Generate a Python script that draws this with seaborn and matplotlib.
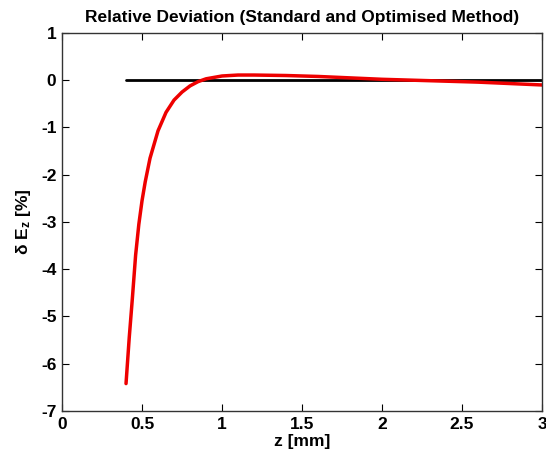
import numpy as np
import pandas as pd
import seaborn as sns
import matplotlib
matplotlib.use("Agg")
import matplotlib.pyplot as plt

# values
z_mm = [0.40, 0.42, 0.44, 0.46, 0.48, 0.50, 0.52, 0.55, 0.60, 0.65, 0.70,
        0.75, 0.80, 0.85, 0.90, 1.00, 1.10, 1.20, 1.40, 1.60, 1.80, 2.00,
        2.20, 2.40, 2.60, 2.80, 3.00]
dev_pct = [-6.42, -5.45, -4.60, -3.70, -3.05, -2.55, -2.15, -1.65, -1.07,
           -0.68, -0.42, -0.25, -0.12, -0.03, 0.03, 0.09, 0.11, 0.11, 0.10,
           0.08, 0.05, 0.02, 0.00, -0.02, -0.04, -0.07, -0.10]
ref_z = [0.40, 3.00]
ref_dev = [0.0, 0.0]

x_ticks = [0, 0.5, 1, 1.5, 2, 2.5, 3]
x_labels = ["0", "0.5", "1", "1.5", "2", "2.5", "3"]
y_ticks = [-7, -6, -5, -4, -3, -2, -1, 0, 1]

sns.set_style("ticks")
plt.rcParams['font.family'] = ['Liberation Sans', 'DejaVu Sans']
plt.rcParams['font.weight'] = 'bold'
plt.rcParams['axes.unicode_minus'] = False
plt.rcParams['text.color'] = 'black'
plt.rcParams['axes.labelcolor'] = 'black'
plt.rcParams['mathtext.fontset'] = 'custom'
plt.rcParams['mathtext.rm'] = 'Liberation Sans:bold'
plt.rcParams['mathtext.it'] = 'Liberation Sans:bold'

df = pd.DataFrame({"z": z_mm, "dev": dev_pct})
ref = pd.DataFrame({"z": ref_z, "dev": ref_dev})

fig = plt.figure(figsize=(5.46, 4.62), dpi=100)
ax = fig.add_axes([0.1136, 0.1104, 0.8791, 0.8182])

sns.lineplot(data=ref, x="z", y="dev", color="black", linewidth=2, ax=ax)
sns.lineplot(data=df, x="z", y="dev", color="#ee0000", linewidth=2.5, ax=ax)

ax.set_xlim(0, 3)
ax.set_ylim(-7, 1)
ax.set_xticks(x_ticks)
ax.set_xticklabels(x_labels)
ax.set_yticks(y_ticks)
ax.tick_params(direction="in", length=5, width=0.8, top=True, right=True,
               labelsize=12.5, colors="black", pad=4)
for s in ax.spines.values():
    s.set_visible(True)
    s.set_linewidth(1)
    s.set_color("#333333")

ax.set_title("Relative Deviation (Standard and Optimised Method)",
             fontsize=12.5, fontweight="bold", pad=8, color="black")
ax.set_xlabel("z [mm]", fontsize=12.5, fontweight="bold", labelpad=2)
ax.set_ylabel("δ E$_z$ [%]", fontsize=12.5, fontweight="bold", labelpad=6)

fig.savefig("out.png", dpi=100)
